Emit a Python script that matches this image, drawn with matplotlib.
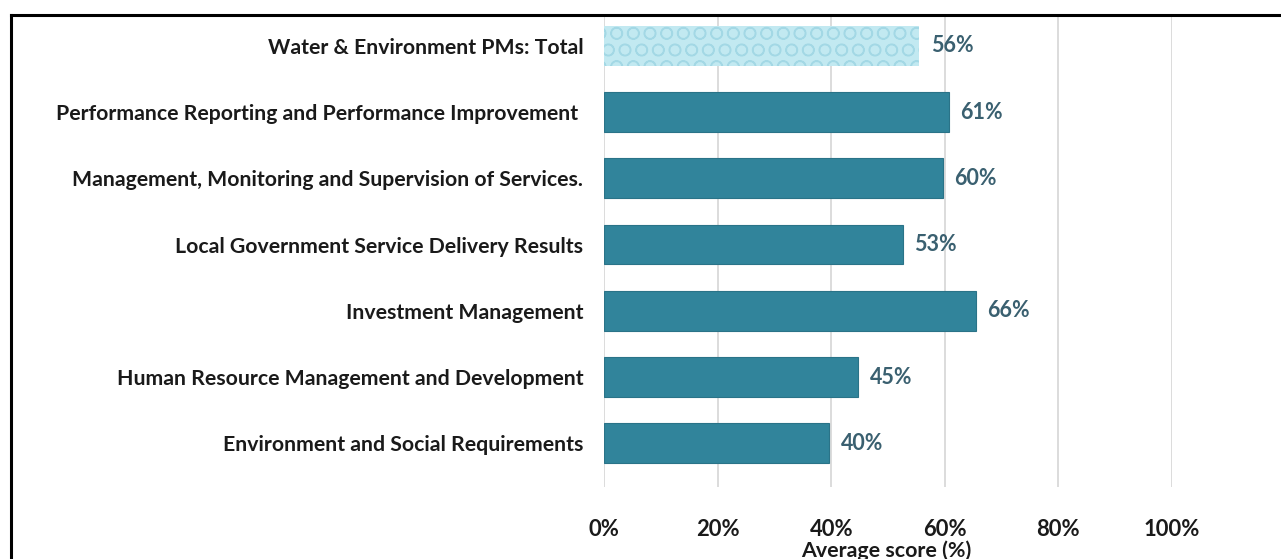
import matplotlib
matplotlib.use("Agg")
import matplotlib.pyplot as plt
from matplotlib.lines import Line2D

categories = [
    "Water & Environment PMs: Total",
    "Performance Reporting and Performance Improvement ",
    "Management, Monitoring and Supervision of Services.",
    "Local Government Service Delivery Results",
    "Investment Management",
    "Human Resource Management and Development",
    "Environment and Social Requirements",
]
values = [56, 61, 60, 53, 66, 45, 40]
bar_widths = [55.5, 60.7, 59.6, 52.6, 65.5, 44.8, 39.7]
xticks = [0, 20, 40, 60, 80, 100]
xtick_labels = ["0%", "20%", "40%", "60%", "80%", "100%"]
xlabel = "Average score (%)"

FONT = ["Lato", "DejaVu Sans"]
plt.rcParams['font.family'] = FONT
plt.rcParams['hatch.linewidth'] = 1.0

W, H = 1281, 559
fig = plt.figure(figsize=(W/100, H/100), dpi=100)
ax = fig.add_axes([604/W, (H-487)/H, 568/W, (487-14)/H])

n = len(categories)
ypos = [n-1-i for i in range(n)]
bar_color = "#31849b"
for i, (y, w) in enumerate(zip(ypos, bar_widths)):
    if i == 0:
        ax.barh(y, w, height=0.6, color="#c2e9f1", edgecolor="#a3d8e5",
                hatch="O", linewidth=0, zorder=3)
    else:
        ax.barh(y, w, height=0.6, color=bar_color, edgecolor="#2a7388",
                linewidth=0.8, zorder=3)
    ax.text(w + 2.0, y, f"{values[i]}%", va="center", ha="left",
            fontsize=15.5, fontweight="bold", color="#3a6070")

ax.set_xlim(0, 100)
ax.set_ylim(-0.66, n-1+0.48)
ax.set_yticks(ypos)
ax.set_yticklabels(categories, fontsize=15.3, fontweight="bold", color="#1a1a1a")
ax.set_xticks(xticks)
ax.set_xticklabels(xtick_labels, fontsize=15.8, fontweight="bold", color="#1a1a1a")
ax.tick_params(axis="both", length=0)
ax.tick_params(axis="y", pad=15)
ax.tick_params(axis="x", pad=23)
for s in ax.spines.values():
    s.set_visible(False)
ax.grid(axis="x", color="#d9d9d9", linewidth=1.3, zorder=0)
ax.set_axisbelow(True)

fig.text(886/W, (H-551)/H, xlabel, ha="center", va="center",
         fontsize=15.4, fontweight="bold", color="#1a1a1a")

# frame lines (left and top)
fig.add_artist(Line2D([11/W, 11/W], [0, (H-15)/H], color="black", lw=2.2,
                      transform=fig.transFigure))
fig.add_artist(Line2D([11/W, 1], [(H-15)/H, (H-15)/H], color="black", lw=2.2,
                      transform=fig.transFigure))

fig.savefig("out.png", dpi=100)
